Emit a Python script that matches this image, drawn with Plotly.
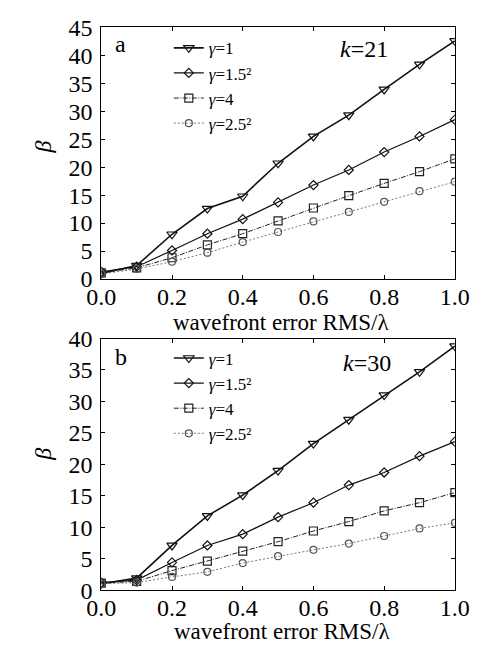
import plotly.graph_objects as go

x = [0.0, 0.1, 0.2, 0.3, 0.4, 0.5, 0.6, 0.7, 0.8, 0.9, 1.0]

# panel a (k=21)
a_g1 = [1.0, 2.4, 8.0, 12.6, 14.8, 20.7, 25.5, 29.3, 33.9, 38.4, 42.6]
a_g15 = [1.3, 2.2, 5.1, 8.1, 10.7, 13.7, 16.8, 19.5, 22.7, 25.5, 28.5]
a_g4 = [1.1, 2.0, 3.8, 6.1, 8.1, 10.4, 12.7, 14.9, 17.1, 19.2, 21.5]
a_g25 = [0.9, 1.8, 3.1, 4.7, 6.6, 8.4, 10.3, 12.0, 13.8, 15.7, 17.4]

# panel b (k=30)
b_g1 = [1.0, 1.9, 7.1, 11.8, 15.1, 19.0, 23.3, 27.1, 31.0, 34.7, 38.8]
b_g15 = [1.2, 1.6, 4.4, 7.1, 8.9, 11.6, 13.9, 16.7, 18.7, 21.3, 23.6]
b_g4 = [1.1, 1.4, 3.1, 4.6, 6.2, 7.7, 9.4, 10.9, 12.6, 13.9, 15.5]
b_g25 = [1.0, 1.2, 2.1, 2.9, 4.3, 5.4, 6.4, 7.4, 8.6, 9.8, 10.7]

names = ["<i>γ</i>=1", "<i>γ</i>=1.5²", "<i>γ</i>=4", "<i>γ</i>=2.5²"]
symbols = ["triangle-down-open", "diamond-open", "square-open", "circle-open"]
sizes = [9, 7, 8, 7]
widths = [1.6, 1.2, 1.0, 0.8]
dashes = ["solid", "solid", "5px,1.5px,1px,1.5px", "2px,2px"]
colors = ["#111111", "#111111", "#222222", "#555555"]

FONT = "Liberation Serif"

fig = go.Figure()

panels = [
    ([a_g1, a_g15, a_g4, a_g25], "x", "y", "legend"),
    ([b_g1, b_g15, b_g4, b_g25], "x2", "y2", "legend2"),
]
for series, xa, ya, leg in panels:
    for i, ys in enumerate(series):
        fig.add_trace(go.Scatter(
            x=x, y=ys, mode="lines+markers", name=names[i],
            xaxis=xa, yaxis=ya, legend=leg,
            line=dict(color=colors[i], width=widths[i], dash=dashes[i]),
            marker=dict(symbol=symbols[i], size=sizes[i], color=colors[i],
                        line=dict(width=1.2, color=colors[i])),
        ))

W, H = 483, 654
xd = [92 / W, 469 / W]
ya_dom = [1 - 277 / H, 1 - 15 / H]
yb_dom = [1 - 601 / H, 1 - 339 / H]

axis_common = dict(
    showline=True, linecolor="black", linewidth=1, mirror="ticks",
    ticks="inside", ticklen=4, tickcolor="black", showgrid=False, zeroline=False,
    tickfont=dict(family=FONT, size=24, color="black"),
    ticklabeloverflow="allow",
)

fig.update_layout(
    width=W, height=H, margin=dict(l=0, r=0, t=0, b=0),
    paper_bgcolor="white", plot_bgcolor="white",
    font=dict(family=FONT, color="black"),
    xaxis=dict(domain=xd, anchor="y", range=[0, 1], dtick=0.2, tickformat=".1f",
               ticklabelstandoff=-4, **axis_common),
    yaxis=dict(domain=ya_dom, anchor="x", range=[0, 45], dtick=5, ticklabelstandoff=3, **axis_common),
    xaxis2=dict(domain=xd, anchor="y2", range=[0, 1], dtick=0.2, tickformat=".1f",
                ticklabelstandoff=-4, **axis_common),
    yaxis2=dict(domain=yb_dom, anchor="x2", range=[0, 40], dtick=5, ticklabelstandoff=3, **axis_common),
    legend=dict(x=164 / W, y=1 - 18 / H, xanchor="left", yanchor="top",
                bgcolor="rgba(0,0,0,0)", font=dict(family=FONT, size=17),
                tracegroupgap=0, itemwidth=30),
    legend2=dict(x=164 / W, y=1 - 341 / H, xanchor="left", yanchor="top",
                 bgcolor="rgba(0,0,0,0)", font=dict(family=FONT, size=17),
                 tracegroupgap=0, itemwidth=30),
)

ann = [
    dict(text="a", x=112 / W, y=1 - 32 / H, textangle=0, size=24),
    dict(text="<i>k</i>=21", x=372 / W, y=1 - 38 / H, textangle=0, size=24),
    dict(text="b", x=113 / W, y=1 - 358 / H, textangle=0, size=24),
    dict(text="<i>k</i>=30", x=375 / W, y=1 - 365 / H, textangle=0, size=24),
    dict(text="wavefront error RMS/λ", x=284 / W, y=1 - 322 / H, textangle=0, size=23),
    dict(text="wavefront error RMS/λ", x=285 / W, y=1 - 644 / H, textangle=0, size=23),
    dict(text="<i>β</i>", x=30 / W, y=1 - 140 / H, textangle=-90, size=24),
    dict(text="<i>β</i>", x=30 / W, y=1 - 460 / H, textangle=-90, size=24),
]
for a in ann:
    sz = a.pop("size")
    fig.add_annotation(xref="paper", yref="paper", showarrow=False,
                       xanchor="center", yanchor="middle",
                       font=dict(family=FONT, size=sz, color="black"), **a)

fig.write_html("out.html")
